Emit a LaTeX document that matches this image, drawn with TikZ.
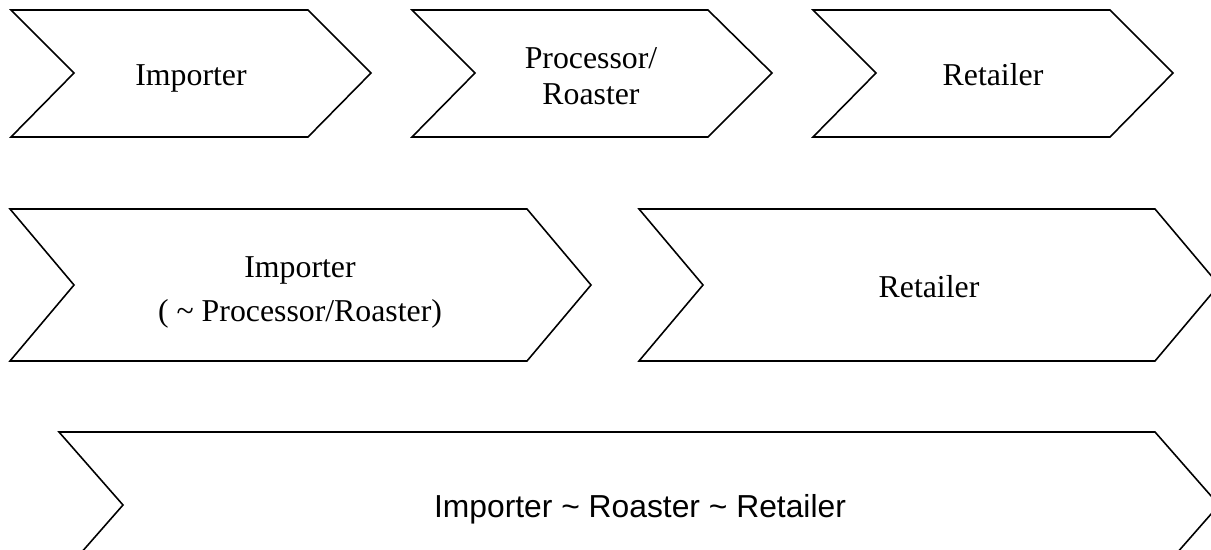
\documentclass[tikz,border=0pt]{standalone}
\usepackage{fontspec}
\setmainfont{Liberation Serif}
\newfontfamily\arialfont{Liberation Sans}

\begin{document}
\begin{tikzpicture}[x=0.02cm, y=-0.02cm,
  chev/.style={line width=0.9pt, line join=miter},
  lbl/.style={anchor=base, align=center, inner sep=0pt, font=\fontsize{18.1}{21}\selectfont},
  lbltwo/.style={lbl, font=\fontsize{18.1}{25.5}\selectfont},
  lblsans/.style={lbl, font=\arialfont\fontsize{18.1}{21}\selectfont}]

\useasboundingbox (0,0) rectangle (1211,550);
\clip (0,0) rectangle (1211,550);

% first row
\draw [chev] (11,10) -- (308,10) -- (371,73) -- (308,137) -- (11,137) -- (74,73) -- cycle;
\draw [chev] (412,10) -- (708,10) -- (772,73) -- (708,137) -- (412,137) -- (475,73) -- cycle;
\draw [chev] (813,10) -- (1110,10) -- (1173,73) -- (1110,137) -- (813,137) -- (876,73) -- cycle;

\node (importer) [lbl] at (191,86) {Importer};
\node (roaster) [lbl] at (591,105) {Processor/\\Roaster};
\node (retailer) [lbl] at (993,86) {Retailer};

% second row
\draw [chev] (10,209) -- (527,209) -- (591,285) -- (527,361) -- (10,361) -- (74,285) -- cycle;
\draw [chev] (639,209) -- (1155,209) -- (1219,285) -- (1155,361) -- (639,361) -- (703,285) -- cycle;

\node (improaster) [lbltwo] at (300,322) {Importer\\( \textasciitilde{} Processor/Roaster)};
\node (retailertwo) [lbl] at (929,298) {Retailer};

% third row
\draw [chev] (59,432) -- (1155,432) -- (1219,505) -- (1155,578) -- (59,578) -- (123,505) -- cycle;

\node (chain) [lblsans] at (640,518) {Importer \textasciitilde{} Roaster \textasciitilde{} Retailer};

\end{tikzpicture}
\end{document}
